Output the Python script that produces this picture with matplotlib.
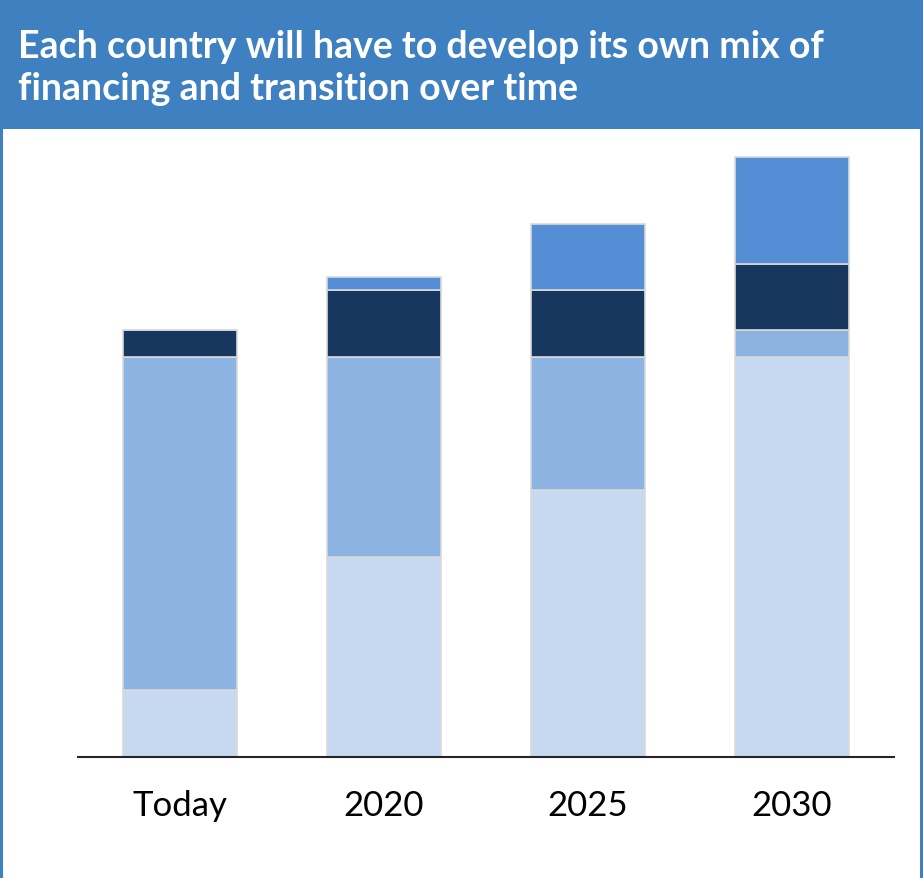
import matplotlib
matplotlib.use("Agg")
import matplotlib.pyplot as plt
from matplotlib.patches import Rectangle
from matplotlib.lines import Line2D

categories = ["Today", "2020", "2025", "2030"]
seg_light = [1.0, 3.0, 4.0, 6.0]
seg_medium = [5.0, 3.0, 2.0, 0.4]
seg_dark = [0.4, 1.0, 1.0, 1.0]
seg_blue = [0.0, 0.2, 1.0, 1.6]
series = [seg_light, seg_medium, seg_dark, seg_blue]
colors = ["#C6D9F0", "#8DB3E2", "#17375E", "#558ED5"]
title = "Each country will have to develop its own mix of\nfinancing and transition over time"

W, H = 923, 879
fig = plt.figure(figsize=(W / 100, H / 100), dpi=100)
fig.patch.set_facecolor("white")

# banner
fig.patches.append(Rectangle((0, (H - 130) / H), 1, 130 / H, transform=fig.transFigure,
                             facecolor="#3E80C0", edgecolor="none", zorder=0))
# side frame lines
for xp in (1.2 / W, (W - 2.5) / W):
    fig.lines.append(Line2D([xp, xp], [0, 1], transform=fig.transFigure,
                            color="#3E80C0", linewidth=2.2, zorder=1))
fig.text(18 / W, 1 - 68 / H, title, color="white", fontsize=27, fontweight="bold",
         family=["Lato", "DejaVu Sans"], ha="left", va="center", linespacing=1.32)

ax = fig.add_axes([78 / W, (H - 758) / H, (894 - 78) / W, (758 - 142) / H])
x = list(range(len(categories)))
bottom = [0.0] * len(categories)
for vals, c in zip(series, colors):
    ax.bar(x, vals, width=0.56, bottom=bottom, color=c, edgecolor="#D9D9D9", linewidth=1.2, zorder=2)
    bottom = [b + v for b, v in zip(bottom, vals)]

ax.set_xlim(-0.5, 3.5)
ax.set_ylim(0, 9.24)
for s in ["top", "right", "left"]:
    ax.spines[s].set_visible(False)
ax.spines["bottom"].set_color("#262626")
ax.spines["bottom"].set_linewidth(1.5)
ax.spines["bottom"].set_zorder(3)
ax.set_yticks([])
ax.set_xticks(x)
ax.set_xticklabels(categories, fontsize=25, family=["Lato", "DejaVu Sans"], color="black")
ax.tick_params(axis="x", length=0, pad=23)
ax.set_facecolor("none")

fig.savefig("out.png", dpi=100, facecolor="white")
